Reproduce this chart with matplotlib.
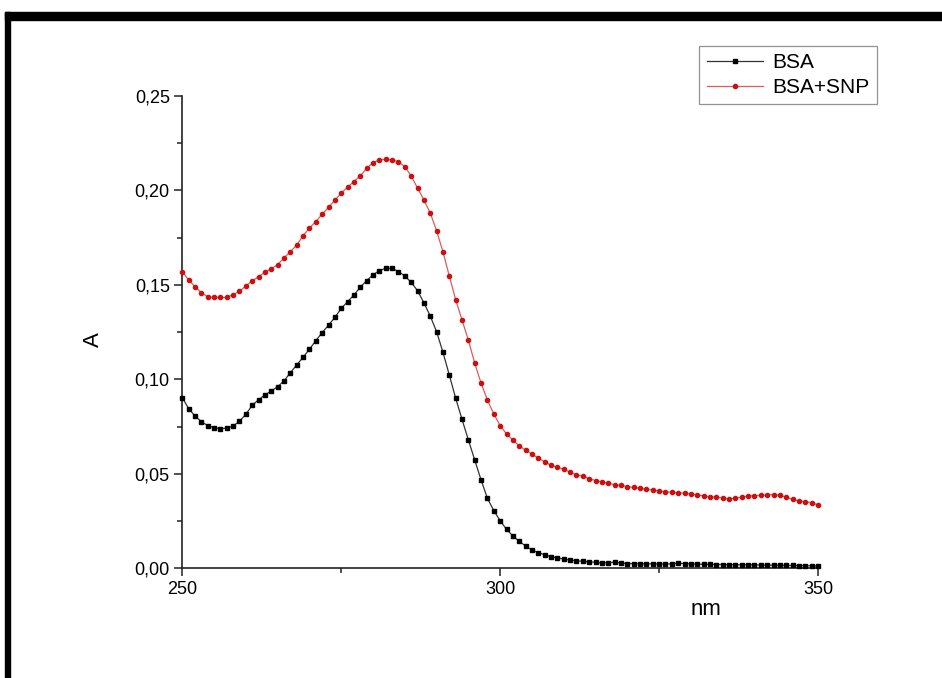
import matplotlib
matplotlib.use("Agg")
import matplotlib.pyplot as plt
from matplotlib.patches import Rectangle
from matplotlib.ticker import MultipleLocator, FuncFormatter

plt.rcParams["font.family"] = ["Liberation Sans", "DejaVu Sans"]

# wavelength grid (nm), one point per nm
nm = list(range(250, 351))

# absorbance, BSA
bsa = [
    0.0903, 0.0845, 0.0806, 0.0776, 0.0755, 0.0744, 0.0739, 0.0741, 0.0753, 0.0778,
    0.0815, 0.0862, 0.0892, 0.0917, 0.0938, 0.0961, 0.0991, 0.1035, 0.1076, 0.1116,
    0.1159, 0.1204, 0.1247, 0.1286, 0.1327, 0.1375, 0.1410, 0.1446, 0.1487, 0.1522,
    0.1552, 0.1575, 0.1587, 0.1587, 0.1570, 0.1547, 0.1513, 0.1469, 0.1405, 0.1335,
    0.1252, 0.1143, 0.1023, 0.0900, 0.0788, 0.0679, 0.0573, 0.0467, 0.0370, 0.0305,
    0.0252, 0.0206, 0.0171, 0.0143, 0.0118, 0.0097, 0.0083, 0.0072, 0.0061, 0.0056,
    0.0048, 0.0044, 0.0040, 0.0037, 0.0034, 0.0032, 0.0028, 0.0030, 0.0032, 0.0028,
    0.0025, 0.0025, 0.0024, 0.0024, 0.0023, 0.0023, 0.0022, 0.0024, 0.0026, 0.0025,
    0.0023, 0.0022, 0.0021, 0.0021, 0.0020, 0.0020, 0.0019, 0.0019, 0.0018, 0.0019,
    0.0018, 0.0017, 0.0017, 0.0016, 0.0016, 0.0015, 0.0015, 0.0014, 0.0014, 0.0013,
    0.0012,
]

# absorbance, BSA + SNP
bsa_snp = [
    0.1570, 0.1525, 0.1490, 0.1458, 0.1437, 0.1433, 0.1433, 0.1433, 0.1448, 0.1465,
    0.1494, 0.1520, 0.1543, 0.1566, 0.1585, 0.1606, 0.1642, 0.1675, 0.1710, 0.1760,
    0.1800, 0.1834, 0.1873, 0.1910, 0.1947, 0.1985, 0.2016, 0.2046, 0.2076, 0.2116,
    0.2146, 0.2160, 0.2164, 0.2160, 0.2151, 0.2125, 0.2076, 0.2012, 0.1949, 0.1880,
    0.1786, 0.1675, 0.1547, 0.1421, 0.1314, 0.1207, 0.1085, 0.0979, 0.0890, 0.0817,
    0.0755, 0.0711, 0.0679, 0.0647, 0.0626, 0.0605, 0.0582, 0.0564, 0.0545, 0.0534,
    0.0524, 0.0508, 0.0495, 0.0488, 0.0474, 0.0464, 0.0457, 0.0450, 0.0442, 0.0439,
    0.0432, 0.0428, 0.0423, 0.0418, 0.0414, 0.0409, 0.0405, 0.0402, 0.0400, 0.0397,
    0.0393, 0.0388, 0.0383, 0.0379, 0.0376, 0.0372, 0.0367, 0.0372, 0.0376, 0.0383,
    0.0384, 0.0386, 0.0388, 0.0390, 0.0386, 0.0376, 0.0365, 0.0356, 0.0353, 0.0347,
    0.0335,
]

fig = plt.figure(figsize=(9.42, 6.78), dpi=100)
ax = fig.add_axes([0.1935, 0.1618, 0.6749, 0.697])

ax.plot(nm, bsa, color="#333333", lw=0.9, marker="s", ms=2.6,
        mfc="black", mec="black", label="BSA", clip_on=False, zorder=3)
ax.plot(nm, bsa_snp, color="#e05a5a", lw=0.9, marker="o", ms=3.0,
        mfc="#cc1010", mec="#cc1010", label="BSA+SNP", clip_on=False, zorder=3)

ax.set_xlim(250, 350)
ax.set_ylim(0, 0.25)
ax.xaxis.set_major_locator(MultipleLocator(50))
ax.xaxis.set_minor_locator(MultipleLocator(25))
ax.yaxis.set_major_locator(MultipleLocator(0.05))
ax.yaxis.set_minor_locator(MultipleLocator(0.025))
ax.yaxis.set_major_formatter(FuncFormatter(lambda v, p: f"{v:.2f}".replace(".", ",")))

for s in ["top", "right"]:
    ax.spines[s].set_visible(False)
for s in ["left", "bottom"]:
    ax.spines[s].set_linewidth(1.2)
    ax.spines[s].set_color("#222222")

ax.tick_params(which="major", direction="out", length=6, width=1.1, labelsize=13,
               color="#222222", pad=3)
ax.tick_params(which="minor", direction="out", length=3.5, width=1.1, color="#222222")

ax.text(0.824, -0.087, "nm", transform=ax.transAxes, fontsize=16, ha="center", va="center")
fig.text(0.0987, 0.4985, "A", rotation=90, fontsize=16, ha="center", va="center")

leg = fig.legend(loc="upper right", bbox_to_anchor=(0.9307, 0.9326), fontsize=15,
                 frameon=True, fancybox=False, edgecolor="#777777", borderaxespad=0,
                 handlelength=2.7, labelspacing=0.28, borderpad=0.35, handletextpad=0.45)
leg.get_frame().set_linewidth(0.9)

# black picture frame (top and left bands)
fig.patches.append(Rectangle((5 / 942, 1 - 20 / 678), 1.0, 8 / 678,
                             transform=fig.transFigure, color="black", zorder=10))
fig.patches.append(Rectangle((5 / 942, -0.01), 5 / 942, 1 - 12 / 678 + 0.01,
                             transform=fig.transFigure, color="black", zorder=10))

fig.savefig("out.png", dpi=100)
plt.close("all")
